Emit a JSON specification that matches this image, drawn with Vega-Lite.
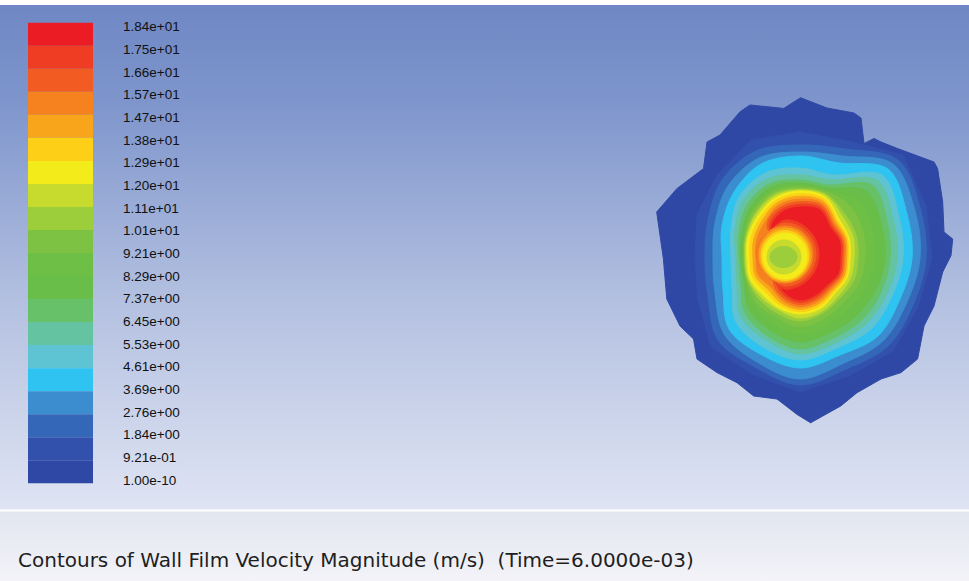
{
"$schema":"https://vega.github.io/schema/vega-lite/v6.json",
"width":969,"height":581,
"autosize":{"type":"fit","contains":"padding"},
"padding":0,
"background":"#ffffff",
"config":{"view":{"stroke":null}},
"resolve":{"scale":{"y":"independent"}},
"datasets":{
"outer":[
{"c":"k01","b":20,"o":0,"x":800.5,"y":97.7},{"c":"k01","b":20,"o":1,"x":827,"y":108},{"c":"k01","b":20,"o":2,"x":854,"y":113},{"c":"k01","b":20,"o":3,"x":861,"y":118},{"c":"k01","b":20,"o":4,"x":864,"y":143.5},{"c":"k01","b":20,"o":5,"x":874,"y":138.5},{"c":"k01","b":20,"o":6,"x":881,"y":142},{"c":"k01","b":20,"o":7,"x":897.5,"y":148.5},{"c":"k01","b":20,"o":8,"x":934,"y":162},{"c":"k01","b":20,"o":9,"x":937.6,"y":168.6},{"c":"k01","b":20,"o":10,"x":942.7,"y":202},{"c":"k01","b":20,"o":11,"x":944,"y":232},{"c":"k01","b":20,"o":12,"x":952.7,"y":239},{"c":"k01","b":20,"o":13,"x":951,"y":255.6},{"c":"k01","b":20,"o":14,"x":942.7,"y":272},{"c":"k01","b":20,"o":15,"x":934,"y":306},{"c":"k01","b":20,"o":16,"x":924,"y":326},{"c":"k01","b":20,"o":17,"x":917.6,"y":359},{"c":"k01","b":20,"o":18,"x":901,"y":372.6},{"c":"k01","b":20,"o":19,"x":881,"y":379},{"c":"k01","b":20,"o":20,"x":857,"y":392.7},{"c":"k01","b":20,"o":21,"x":840.7,"y":406},{"c":"k01","b":20,"o":22,"x":810.6,"y":422.8},{"c":"k01","b":20,"o":23,"x":797,"y":414.4},{"c":"k01","b":20,"o":24,"x":777,"y":399},{"c":"k01","b":20,"o":25,"x":753.7,"y":396},{"c":"k01","b":20,"o":26,"x":737,"y":382.7},{"c":"k01","b":20,"o":27,"x":717,"y":372.6},{"c":"k01","b":20,"o":28,"x":697,"y":359},{"c":"k01","b":20,"o":29,"x":693.5,"y":339},{"c":"k01","b":20,"o":30,"x":680,"y":326},{"c":"k01","b":20,"o":31,"x":666.8,"y":299},{"c":"k01","b":20,"o":32,"x":663.4,"y":259},{"c":"k01","b":20,"o":33,"x":656.7,"y":212},{"c":"k01","b":20,"o":34,"x":676.8,"y":188.7},{"c":"k01","b":20,"o":35,"x":703.5,"y":168.6},{"c":"k01","b":20,"o":36,"x":707,"y":142},{"c":"k01","b":20,"o":37,"x":720,"y":135},{"c":"k01","b":20,"o":38,"x":740,"y":111.8},{"c":"k01","b":20,"o":39,"x":750,"y":105},{"c":"k01","b":20,"o":40,"x":783.8,"y":108.4},
{"c":"k02","b":19,"o":0,"x":932,"y":258},{"c":"k02","b":19,"o":1,"x":918,"y":307},{"c":"k02","b":19,"o":2,"x":893,"y":351},{"c":"k02","b":19,"o":3,"x":849,"y":376},{"c":"k02","b":19,"o":4,"x":800,"y":392},{"c":"k02","b":19,"o":5,"x":752,"y":374},{"c":"k02","b":19,"o":6,"x":711,"y":347},{"c":"k02","b":19,"o":7,"x":698,"y":300},{"c":"k02","b":19,"o":8,"x":695,"y":258},{"c":"k02","b":19,"o":9,"x":697,"y":215},{"c":"k02","b":19,"o":10,"x":717,"y":175},{"c":"k02","b":19,"o":11,"x":751,"y":140},{"c":"k02","b":19,"o":12,"x":800,"y":132},{"c":"k02","b":19,"o":13,"x":848,"y":141},{"c":"k02","b":19,"o":14,"x":903,"y":155},{"c":"k02","b":19,"o":15,"x":926,"y":206}
],
"inner":[
{"c":"k03","b":18,"o":0,"x":926,"y":258},{"c":"k03","b":18,"o":1,"x":913,"y":305},{"c":"k03","b":18,"o":2,"x":888,"y":346},{"c":"k03","b":18,"o":3,"x":846,"y":369},{"c":"k03","b":18,"o":4,"x":800,"y":385},{"c":"k03","b":18,"o":5,"x":755,"y":367},{"c":"k03","b":18,"o":6,"x":718,"y":340},{"c":"k03","b":18,"o":7,"x":708,"y":296},{"c":"k03","b":18,"o":8,"x":705,"y":258},{"c":"k03","b":18,"o":9,"x":708,"y":220},{"c":"k03","b":18,"o":10,"x":722,"y":180},{"c":"k03","b":18,"o":11,"x":756,"y":151},{"c":"k03","b":18,"o":12,"x":800,"y":145},{"c":"k03","b":18,"o":13,"x":845,"y":149},{"c":"k03","b":18,"o":14,"x":898,"y":160},{"c":"k03","b":18,"o":15,"x":920,"y":208},
{"c":"k04","b":17,"o":0,"x":920,"y":258},{"c":"k04","b":17,"o":1,"x":907,"y":302},{"c":"k04","b":17,"o":2,"x":883,"y":341},{"c":"k04","b":17,"o":3,"x":844,"y":363},{"c":"k04","b":17,"o":4,"x":800,"y":379},{"c":"k04","b":17,"o":5,"x":757,"y":362},{"c":"k04","b":17,"o":6,"x":724,"y":334},{"c":"k04","b":17,"o":7,"x":715,"y":293},{"c":"k04","b":17,"o":8,"x":713,"y":258},{"c":"k04","b":17,"o":9,"x":715,"y":223},{"c":"k04","b":17,"o":10,"x":728,"y":186},{"c":"k04","b":17,"o":11,"x":759,"y":158},{"c":"k04","b":17,"o":12,"x":800,"y":152},{"c":"k04","b":17,"o":13,"x":842,"y":156},{"c":"k04","b":17,"o":14,"x":893,"y":164},{"c":"k04","b":17,"o":15,"x":915,"y":211},
{"c":"k05","b":16,"o":0,"x":912,"y":258},{"c":"k05","b":16,"o":1,"x":900,"y":299},{"c":"k05","b":16,"o":2,"x":878,"y":336},{"c":"k05","b":16,"o":3,"x":840,"y":355},{"c":"k05","b":16,"o":4,"x":800,"y":368},{"c":"k05","b":16,"o":5,"x":760,"y":354},{"c":"k05","b":16,"o":6,"x":729,"y":329},{"c":"k05","b":16,"o":7,"x":723,"y":290},{"c":"k05","b":16,"o":8,"x":722,"y":258},{"c":"k05","b":16,"o":9,"x":722,"y":226},{"c":"k05","b":16,"o":10,"x":734,"y":192},{"c":"k05","b":16,"o":11,"x":761,"y":164},{"c":"k05","b":16,"o":12,"x":800,"y":156},{"c":"k05","b":16,"o":13,"x":839,"y":163},{"c":"k05","b":16,"o":14,"x":888,"y":169},{"c":"k05","b":16,"o":15,"x":907,"y":214},
{"c":"k06","b":15,"o":0,"x":903,"y":258},{"c":"k06","b":15,"o":1,"x":892,"y":296},{"c":"k06","b":15,"o":2,"x":871,"y":329},{"c":"k06","b":15,"o":3,"x":837,"y":348},{"c":"k06","b":15,"o":4,"x":800,"y":360},{"c":"k06","b":15,"o":5,"x":763,"y":347},{"c":"k06","b":15,"o":6,"x":736,"y":322},{"c":"k06","b":15,"o":7,"x":732,"y":286},{"c":"k06","b":15,"o":8,"x":731,"y":258},{"c":"k06","b":15,"o":9,"x":731,"y":229},{"c":"k06","b":15,"o":10,"x":739,"y":197},{"c":"k06","b":15,"o":11,"x":765,"y":173},{"c":"k06","b":15,"o":12,"x":800,"y":168},{"c":"k06","b":15,"o":13,"x":834,"y":175},{"c":"k06","b":15,"o":14,"x":882,"y":175},{"c":"k06","b":15,"o":15,"x":899,"y":217},
{"c":"k07","b":14,"o":0,"x":897,"y":258},{"c":"k07","b":14,"o":1,"x":887,"y":294},{"c":"k07","b":14,"o":2,"x":866,"y":324},{"c":"k07","b":14,"o":3,"x":835,"y":343},{"c":"k07","b":14,"o":4,"x":800,"y":354},{"c":"k07","b":14,"o":5,"x":766,"y":340},{"c":"k07","b":14,"o":6,"x":741,"y":317},{"c":"k07","b":14,"o":7,"x":737,"y":284},{"c":"k07","b":14,"o":8,"x":736,"y":258},{"c":"k07","b":14,"o":9,"x":735,"y":231},{"c":"k07","b":14,"o":10,"x":743,"y":201},{"c":"k07","b":14,"o":11,"x":767,"y":179},{"c":"k07","b":14,"o":12,"x":800,"y":175},{"c":"k07","b":14,"o":13,"x":832,"y":180},{"c":"k07","b":14,"o":14,"x":877,"y":180},{"c":"k07","b":14,"o":15,"x":893,"y":219},
{"c":"k08","b":13,"o":0,"x":890,"y":258},{"c":"k08","b":13,"o":1,"x":881,"y":292},{"c":"k08","b":13,"o":2,"x":862,"y":320},{"c":"k08","b":13,"o":3,"x":833,"y":338},{"c":"k08","b":13,"o":4,"x":800,"y":349},{"c":"k08","b":13,"o":5,"x":768,"y":336},{"c":"k08","b":13,"o":6,"x":745,"y":313},{"c":"k08","b":13,"o":7,"x":741,"y":283},{"c":"k08","b":13,"o":8,"x":739,"y":258},{"c":"k08","b":13,"o":9,"x":739,"y":233},{"c":"k08","b":13,"o":10,"x":747,"y":205},{"c":"k08","b":13,"o":11,"x":769,"y":184},{"c":"k08","b":13,"o":12,"x":800,"y":180},{"c":"k08","b":13,"o":13,"x":830,"y":185},{"c":"k08","b":13,"o":14,"x":872,"y":185},{"c":"k08","b":13,"o":15,"x":887,"y":222},
{"c":"k09","b":12,"o":0,"x":885,"y":258},{"c":"k09","b":12,"o":1,"x":876,"y":289},{"c":"k09","b":12,"o":2,"x":857,"y":315},{"c":"k09","b":12,"o":3,"x":831,"y":332},{"c":"k09","b":12,"o":4,"x":800,"y":342},{"c":"k09","b":12,"o":5,"x":770,"y":330},{"c":"k09","b":12,"o":6,"x":749,"y":309},{"c":"k09","b":12,"o":7,"x":744,"y":281},{"c":"k09","b":12,"o":8,"x":741,"y":258},{"c":"k09","b":12,"o":9,"x":742,"y":234},{"c":"k09","b":12,"o":10,"x":750,"y":208},{"c":"k09","b":12,"o":11,"x":771,"y":187},{"c":"k09","b":12,"o":12,"x":800,"y":183},{"c":"k09","b":12,"o":13,"x":829,"y":188},{"c":"k09","b":12,"o":14,"x":866,"y":191},{"c":"k09","b":12,"o":15,"x":881,"y":224},
{"c":"k10","b":11,"o":0,"x":875,"y":258},{"c":"k10","b":11,"o":1,"x":867,"y":286},{"c":"k10","b":11,"o":2,"x":850,"y":308},{"c":"k10","b":11,"o":3,"x":828,"y":325},{"c":"k10","b":11,"o":4,"x":800,"y":335},{"c":"k10","b":11,"o":5,"x":773,"y":323},{"c":"k10","b":11,"o":6,"x":753,"y":305},{"c":"k10","b":11,"o":7,"x":746,"y":281},{"c":"k10","b":11,"o":8,"x":742.5,"y":258},{"c":"k10","b":11,"o":9,"x":744,"y":235},{"c":"k10","b":11,"o":10,"x":752,"y":210},{"c":"k10","b":11,"o":11,"x":772,"y":190},{"c":"k10","b":11,"o":12,"x":800,"y":185},{"c":"k10","b":11,"o":13,"x":828,"y":191},{"c":"k10","b":11,"o":14,"x":858,"y":200},{"c":"k10","b":11,"o":15,"x":872,"y":228},
{"c":"k11","b":10,"o":0,"x":865,"y":258},{"c":"k11","b":10,"o":1,"x":859,"y":283},{"c":"k11","b":10,"o":2,"x":844,"y":302},{"c":"k11","b":10,"o":3,"x":825,"y":318},{"c":"k11","b":10,"o":4,"x":800,"y":327},{"c":"k11","b":10,"o":5,"x":776,"y":317},{"c":"k11","b":10,"o":6,"x":756,"y":302},{"c":"k11","b":10,"o":7,"x":746.5,"y":280},{"c":"k11","b":10,"o":8,"x":743.5,"y":258},{"c":"k11","b":10,"o":9,"x":745,"y":235},{"c":"k11","b":10,"o":10,"x":753,"y":211},{"c":"k11","b":10,"o":11,"x":773,"y":192},{"c":"k11","b":10,"o":12,"x":800,"y":187},{"c":"k11","b":10,"o":13,"x":827,"y":192},{"c":"k11","b":10,"o":14,"x":851,"y":207},{"c":"k11","b":10,"o":15,"x":863,"y":232},
{"c":"k12","b":9,"o":0,"x":858,"y":258},{"c":"k12","b":9,"o":1,"x":854,"y":280},{"c":"k12","b":9,"o":2,"x":840,"y":298},{"c":"k12","b":9,"o":3,"x":823,"y":313},{"c":"k12","b":9,"o":4,"x":800,"y":321},{"c":"k12","b":9,"o":5,"x":777,"y":313},{"c":"k12","b":9,"o":6,"x":759,"y":299},{"c":"k12","b":9,"o":7,"x":747.5,"y":279.5},{"c":"k12","b":9,"o":8,"x":744.5,"y":258},{"c":"k12","b":9,"o":9,"x":746,"y":235.5},{"c":"k12","b":9,"o":10,"x":755,"y":213},{"c":"k12","b":9,"o":11,"x":774,"y":194},{"c":"k12","b":9,"o":12,"x":800,"y":189},{"c":"k12","b":9,"o":13,"x":826,"y":194},{"c":"k12","b":9,"o":14,"x":845,"y":214},{"c":"k12","b":9,"o":15,"x":856,"y":235},
{"c":"k13","b":8,"o":0,"x":854,"y":258},{"c":"k13","b":8,"o":1,"x":850,"y":279},{"c":"k13","b":8,"o":2,"x":838,"y":296},{"c":"k13","b":8,"o":3,"x":822,"y":311},{"c":"k13","b":8,"o":4,"x":800,"y":318},{"c":"k13","b":8,"o":5,"x":779,"y":310},{"c":"k13","b":8,"o":6,"x":761,"y":297},{"c":"k13","b":8,"o":7,"x":748.5,"y":279},{"c":"k13","b":8,"o":8,"x":745.5,"y":258},{"c":"k13","b":8,"o":9,"x":747,"y":236},{"c":"k13","b":8,"o":10,"x":756,"y":214.5},{"c":"k13","b":8,"o":11,"x":774.5,"y":196},{"c":"k13","b":8,"o":12,"x":800,"y":190},{"c":"k13","b":8,"o":13,"x":826,"y":195.5},{"c":"k13","b":8,"o":14,"x":842,"y":216},{"c":"k13","b":8,"o":15,"x":853,"y":236.5},
{"c":"k14","b":7,"o":0,"x":850,"y":258},{"c":"k14","b":7,"o":1,"x":847,"y":278},{"c":"k14","b":7,"o":2,"x":835,"y":293},{"c":"k14","b":7,"o":3,"x":821,"y":308},{"c":"k14","b":7,"o":4,"x":800,"y":314},{"c":"k14","b":7,"o":5,"x":779,"y":308},{"c":"k14","b":7,"o":6,"x":763,"y":295},{"c":"k14","b":7,"o":7,"x":750,"y":279},{"c":"k14","b":7,"o":8,"x":747,"y":258},{"c":"k14","b":7,"o":9,"x":748,"y":237},{"c":"k14","b":7,"o":10,"x":758,"y":216},{"c":"k14","b":7,"o":11,"x":775,"y":198},{"c":"k14","b":7,"o":12,"x":800,"y":191},{"c":"k14","b":7,"o":13,"x":825,"y":197},{"c":"k14","b":7,"o":14,"x":839,"y":219},{"c":"k14","b":7,"o":15,"x":849,"y":238},
{"c":"k15","b":6,"o":0,"x":848.3,"y":258},{"c":"k15","b":6,"o":1,"x":845.6,"y":276.9},{"c":"k15","b":6,"o":2,"x":833.9,"y":291.9},{"c":"k15","b":6,"o":3,"x":819.8,"y":305.8},{"c":"k15","b":6,"o":4,"x":800,"y":311.7},{"c":"k15","b":6,"o":5,"x":780.4,"y":305.4},{"c":"k15","b":6,"o":6,"x":765.9,"y":292.1},{"c":"k15","b":6,"o":7,"x":752.9,"y":277.5},{"c":"k15","b":6,"o":8,"x":750,"y":258},{"c":"k15","b":6,"o":9,"x":751,"y":237.7},{"c":"k15","b":6,"o":10,"x":759.9,"y":217.9},{"c":"k15","b":6,"o":11,"x":776.1,"y":200.4},{"c":"k15","b":6,"o":12,"x":800,"y":193.7},{"c":"k15","b":6,"o":13,"x":824.4,"y":199.1},{"c":"k15","b":6,"o":14,"x":837.5,"y":220.5},{"c":"k15","b":6,"o":15,"x":847.4,"y":238.4},
{"c":"k16","b":5,"o":0,"x":846.7,"y":258},{"c":"k16","b":5,"o":1,"x":844.1,"y":276.3},{"c":"k16","b":5,"o":2,"x":832.5,"y":290.5},{"c":"k16","b":5,"o":3,"x":818.9,"y":303.6},{"c":"k16","b":5,"o":4,"x":800,"y":309.3},{"c":"k16","b":5,"o":5,"x":781.3,"y":303},{"c":"k16","b":5,"o":6,"x":768.4,"y":289.6},{"c":"k16","b":5,"o":7,"x":755.6,"y":276.4},{"c":"k16","b":5,"o":8,"x":753,"y":258},{"c":"k16","b":5,"o":9,"x":753.8,"y":238.9},{"c":"k16","b":5,"o":10,"x":762.3,"y":220.3},{"c":"k16","b":5,"o":11,"x":777.1,"y":202.8},{"c":"k16","b":5,"o":12,"x":800,"y":196.3},{"c":"k16","b":5,"o":13,"x":823.5,"y":201.4},{"c":"k16","b":5,"o":14,"x":836.1,"y":221.9},{"c":"k16","b":5,"o":15,"x":845.9,"y":239},
{"c":"k17","b":4,"o":0,"x":845,"y":258},{"c":"k17","b":4,"o":1,"x":842.5,"y":275.6},{"c":"k17","b":4,"o":2,"x":831.1,"y":289.1},{"c":"k17","b":4,"o":3,"x":818,"y":301.4},{"c":"k17","b":4,"o":4,"x":800,"y":307},{"c":"k17","b":4,"o":5,"x":782.4,"y":300.5},{"c":"k17","b":4,"o":6,"x":771,"y":287},{"c":"k17","b":4,"o":7,"x":758.4,"y":275.2},{"c":"k17","b":4,"o":8,"x":756,"y":258},{"c":"k17","b":4,"o":9,"x":756.6,"y":240},{"c":"k17","b":4,"o":10,"x":764.7,"y":222.7},{"c":"k17","b":4,"o":11,"x":778.2,"y":205.3},{"c":"k17","b":4,"o":12,"x":800,"y":199},{"c":"k17","b":4,"o":13,"x":822.6,"y":203.5},{"c":"k17","b":4,"o":14,"x":834.6,"y":223.4},{"c":"k17","b":4,"o":15,"x":844.4,"y":239.6},
{"c":"k18","b":3,"o":0,"x":843.3,"y":258},{"c":"k18","b":3,"o":1,"x":840.9,"y":275},{"c":"k18","b":3,"o":2,"x":829.7,"y":287.7},{"c":"k18","b":3,"o":3,"x":817.1,"y":299.3},{"c":"k18","b":3,"o":4,"x":800,"y":304.7},{"c":"k18","b":3,"o":5,"x":783.4,"y":298},{"c":"k18","b":3,"o":6,"x":773.6,"y":284.4},{"c":"k18","b":3,"o":7,"x":776.9,"y":267.6},{"c":"k18","b":3,"o":8,"x":775,"y":258},{"c":"k18","b":3,"o":9,"x":776.9,"y":248.4},{"c":"k18","b":3,"o":10,"x":767,"y":225},{"c":"k18","b":3,"o":11,"x":779.2,"y":207.8},{"c":"k18","b":3,"o":12,"x":800,"y":201.7},{"c":"k18","b":3,"o":13,"x":821.7,"y":205.6},{"c":"k18","b":3,"o":14,"x":833.2,"y":224.8},{"c":"k18","b":3,"o":15,"x":842.8,"y":240.3},
{"c":"k19","b":2,"o":0,"x":841.7,"y":258},{"c":"k19","b":2,"o":1,"x":839.5,"y":274.4},{"c":"k19","b":2,"o":2,"x":828.3,"y":286.3},{"c":"k19","b":2,"o":3,"x":816.2,"y":297.1},{"c":"k19","b":2,"o":4,"x":800,"y":302.3},{"c":"k19","b":2,"o":5,"x":784.4,"y":295.6},{"c":"k19","b":2,"o":6,"x":776.2,"y":281.8},{"c":"k19","b":2,"o":7,"x":781.5,"y":265.7},{"c":"k19","b":2,"o":8,"x":780,"y":258},{"c":"k19","b":2,"o":9,"x":781.5,"y":250.3},{"c":"k19","b":2,"o":10,"x":769.4,"y":227.4},{"c":"k19","b":2,"o":11,"x":780.2,"y":210.2},{"c":"k19","b":2,"o":12,"x":800,"y":204.3},{"c":"k19","b":2,"o":13,"x":820.8,"y":207.8},{"c":"k19","b":2,"o":14,"x":831.8,"y":226.2},{"c":"k19","b":2,"o":15,"x":841.3,"y":240.9},
{"c":"k20","b":1,"o":0,"x":840,"y":258},{"c":"k20","b":1,"o":1,"x":837.9,"y":273.7},{"c":"k20","b":1,"o":2,"x":826.9,"y":284.9},{"c":"k20","b":1,"o":3,"x":815.3,"y":295},{"c":"k20","b":1,"o":4,"x":800,"y":300},{"c":"k20","b":1,"o":5,"x":785.4,"y":293.1},{"c":"k20","b":1,"o":6,"x":778.8,"y":279.2},{"c":"k20","b":1,"o":7,"x":786.1,"y":263.7},{"c":"k20","b":1,"o":8,"x":785,"y":258},{"c":"k20","b":1,"o":9,"x":786.1,"y":252.3},{"c":"k20","b":1,"o":10,"x":771.7,"y":229.7},{"c":"k20","b":1,"o":11,"x":781.2,"y":212.7},{"c":"k20","b":1,"o":12,"x":800,"y":207},{"c":"k20","b":1,"o":13,"x":819.9,"y":210},{"c":"k20","b":1,"o":14,"x":830.4,"y":227.6},{"c":"k20","b":1,"o":15,"x":839.7,"y":241.5},
{"c":"k21","b":2,"o":0,"x":819,"y":254.5},{"c":"k21","b":2,"o":1,"x":814.4,"y":271.8},{"c":"k21","b":2,"o":2,"x":802,"y":284.4},{"c":"k21","b":2,"o":3,"x":785,"y":289},{"c":"k21","b":2,"o":4,"x":771,"y":279.2},{"c":"k21","b":2,"o":5,"x":760.8,"y":268.75},{"c":"k21","b":2,"o":6,"x":757,"y":254.5},{"c":"k21","b":2,"o":7,"x":760.8,"y":240.25},{"c":"k21","b":2,"o":8,"x":771,"y":229.8},{"c":"k21","b":2,"o":9,"x":785,"y":220},{"c":"k21","b":2,"o":10,"x":802,"y":224.6},{"c":"k21","b":2,"o":11,"x":814.4,"y":237.2},
{"c":"k22","b":3,"o":0,"x":816,"y":254.5},{"c":"k22","b":3,"o":1,"x":811.8,"y":270.3},{"c":"k22","b":3,"o":2,"x":800.5,"y":281.8},{"c":"k22","b":3,"o":3,"x":785,"y":286},{"c":"k22","b":3,"o":4,"x":771,"y":279.2},{"c":"k22","b":3,"o":5,"x":760.8,"y":268.75},{"c":"k22","b":3,"o":6,"x":757,"y":254.5},{"c":"k22","b":3,"o":7,"x":760.8,"y":240.25},{"c":"k22","b":3,"o":8,"x":771,"y":229.8},{"c":"k22","b":3,"o":9,"x":785,"y":223},{"c":"k22","b":3,"o":10,"x":800.5,"y":227.2},{"c":"k22","b":3,"o":11,"x":811.8,"y":238.7},
{"c":"k23","b":4,"o":0,"x":813,"y":254.5},{"c":"k23","b":4,"o":1,"x":809.2,"y":268.75},{"c":"k23","b":4,"o":2,"x":799,"y":279.2},{"c":"k23","b":4,"o":3,"x":785,"y":283},{"c":"k23","b":4,"o":4,"x":771,"y":279.2},{"c":"k23","b":4,"o":5,"x":760.8,"y":268.75},{"c":"k23","b":4,"o":6,"x":757,"y":254.5},{"c":"k23","b":4,"o":7,"x":760.8,"y":240.25},{"c":"k23","b":4,"o":8,"x":771,"y":229.8},{"c":"k23","b":4,"o":9,"x":785,"y":226},{"c":"k23","b":4,"o":10,"x":799,"y":229.8},{"c":"k23","b":4,"o":11,"x":809.2,"y":240.25},
{"c":"k24","b":5,"o":0,"x":811,"y":255},{"c":"k24","b":5,"o":1,"x":807.5,"y":268.5},{"c":"k24","b":5,"o":2,"x":798,"y":278.4},{"c":"k24","b":5,"o":3,"x":785,"y":282},{"c":"k24","b":5,"o":4,"x":772,"y":278.4},{"c":"k24","b":5,"o":5,"x":762.5,"y":268.5},{"c":"k24","b":5,"o":6,"x":759,"y":255},{"c":"k24","b":5,"o":7,"x":762.5,"y":241.5},{"c":"k24","b":5,"o":8,"x":772,"y":231.6},{"c":"k24","b":5,"o":9,"x":785,"y":228},{"c":"k24","b":5,"o":10,"x":798,"y":231.6},{"c":"k24","b":5,"o":11,"x":807.5,"y":241.5},
{"c":"k25","b":6,"o":0,"x":809,"y":255.5},{"c":"k25","b":6,"o":1,"x":805.8,"y":268},{"c":"k25","b":6,"o":2,"x":797,"y":277.2},{"c":"k25","b":6,"o":3,"x":785,"y":280.5},{"c":"k25","b":6,"o":4,"x":773,"y":277.2},{"c":"k25","b":6,"o":5,"x":764.2,"y":268},{"c":"k25","b":6,"o":6,"x":761,"y":255.5},{"c":"k25","b":6,"o":7,"x":764.2,"y":243},{"c":"k25","b":6,"o":8,"x":773,"y":233.9},{"c":"k25","b":6,"o":9,"x":785,"y":230.5},{"c":"k25","b":6,"o":10,"x":797,"y":233.9},{"c":"k25","b":6,"o":11,"x":805.8,"y":243},
{"c":"k26","b":7,"o":0,"x":807,"y":256},{"c":"k26","b":7,"o":1,"x":804.1,"y":267.5},{"c":"k26","b":7,"o":2,"x":796,"y":275.9},{"c":"k26","b":7,"o":3,"x":785,"y":279},{"c":"k26","b":7,"o":4,"x":774,"y":275.9},{"c":"k26","b":7,"o":5,"x":765.9,"y":267.5},{"c":"k26","b":7,"o":6,"x":763,"y":256},{"c":"k26","b":7,"o":7,"x":765.9,"y":244.5},{"c":"k26","b":7,"o":8,"x":774,"y":236.1},{"c":"k26","b":7,"o":9,"x":785,"y":233},{"c":"k26","b":7,"o":10,"x":796,"y":236.1},{"c":"k26","b":7,"o":11,"x":804.1,"y":244.5},
{"c":"k27","b":8,"o":0,"x":801,"y":257},{"c":"k27","b":8,"o":1,"x":798.7,"y":265.5},{"c":"k27","b":8,"o":2,"x":792.5,"y":271.7},{"c":"k27","b":8,"o":3,"x":784,"y":274},{"c":"k27","b":8,"o":4,"x":775.5,"y":271.7},{"c":"k27","b":8,"o":5,"x":769.3,"y":265.5},{"c":"k27","b":8,"o":6,"x":767,"y":257},{"c":"k27","b":8,"o":7,"x":769.3,"y":248.5},{"c":"k27","b":8,"o":8,"x":775.5,"y":242.3},{"c":"k27","b":8,"o":9,"x":784,"y":240},{"c":"k27","b":8,"o":10,"x":792.5,"y":242.3},{"c":"k27","b":8,"o":11,"x":798.7,"y":248.5},
{"c":"k28","b":9,"o":0,"x":797,"y":257},{"c":"k28","b":9,"o":1,"x":795.2,"y":262.25},{"c":"k28","b":9,"o":2,"x":790.25,"y":266.1},{"c":"k28","b":9,"o":3,"x":783.5,"y":267.5},{"c":"k28","b":9,"o":4,"x":776.75,"y":266.1},{"c":"k28","b":9,"o":5,"x":771.8,"y":262.25},{"c":"k28","b":9,"o":6,"x":770,"y":257},{"c":"k28","b":9,"o":7,"x":771.8,"y":251.75},{"c":"k28","b":9,"o":8,"x":776.75,"y":247.9},{"c":"k28","b":9,"o":9,"x":783.5,"y":246.5},{"c":"k28","b":9,"o":10,"x":790.25,"y":247.9},{"c":"k28","b":9,"o":11,"x":795.2,"y":251.75}
],
"bands":[
{"b":1,"lo":17.499,"hi":18.42},{"b":2,"lo":16.578,"hi":17.499},{"b":3,"lo":15.657,"hi":16.578},{"b":4,"lo":14.736,"hi":15.657},{"b":5,"lo":13.815,"hi":14.736},{"b":6,"lo":12.894,"hi":13.815},{"b":7,"lo":11.973,"hi":12.894},{"b":8,"lo":11.052,"hi":11.973},{"b":9,"lo":10.131,"hi":11.052},{"b":10,"lo":9.21,"hi":10.131},{"b":11,"lo":8.289,"hi":9.21},{"b":12,"lo":7.368,"hi":8.289},{"b":13,"lo":6.447,"hi":7.368},{"b":14,"lo":5.526,"hi":6.447},{"b":15,"lo":4.605,"hi":5.526},{"b":16,"lo":3.684,"hi":4.605},{"b":17,"lo":2.763,"hi":3.684},{"b":18,"lo":1.842,"hi":2.763},{"b":19,"lo":0.921,"hi":1.842},{"b":20,"lo":0,"hi":0.921}
],
"labels":[
{"p":18.42,"t":"1.84e+01"},{"p":17.499,"t":"1.75e+01"},{"p":16.578,"t":"1.66e+01"},{"p":15.657,"t":"1.57e+01"},{"p":14.736,"t":"1.47e+01"},{"p":13.815,"t":"1.38e+01"},{"p":12.894,"t":"1.29e+01"},{"p":11.973,"t":"1.20e+01"},{"p":11.052,"t":"1.11e+01"},{"p":10.131,"t":"1.01e+01"},{"p":9.21,"t":"9.21e+00"},{"p":8.289,"t":"8.29e+00"},{"p":7.368,"t":"7.37e+00"},{"p":6.447,"t":"6.45e+00"},{"p":5.526,"t":"5.53e+00"},{"p":4.605,"t":"4.61e+00"},{"p":3.684,"t":"3.69e+00"},{"p":2.763,"t":"2.76e+00"},{"p":1.842,"t":"1.84e+00"},{"p":0.921,"t":"9.21e-01"},{"p":0,"t":"1.00e-10"}
]
},
"layer":[
{"data":{"values":[{}]},
 "mark":{"type":"rect","fill":{"gradient":"linear","x1":0,"y1":0,"x2":0,"y2":1,"stops":[{"offset":0,"color":"#6f87c4"},{"offset":0.19,"color":"#7e95cc"},{"offset":0.585,"color":"#b3c0e0"},{"offset":1,"color":"#dfe4f3"}]}},
 "encoding":{"x":{"datum":0,"type":"quantitative","scale":{"domain":[0,969],"nice":false,"zero":false},"axis":null},"x2":{"datum":969},
  "y":{"datum":5,"type":"quantitative","scale":{"domain":[0,581],"reverse":true,"nice":false,"zero":false},"axis":null},"y2":{"datum":509.5}}},
{"data":{"values":[{}]},
 "mark":{"type":"rect","fill":{"gradient":"linear","x1":0,"y1":0,"x2":0,"y2":1,"stops":[{"offset":0,"color":"#e2e6f0"},{"offset":1,"color":"#f3f3f8"}]}},
 "encoding":{"x":{"datum":0,"type":"quantitative","scale":{"domain":[0,969],"nice":false,"zero":false},"axis":null},"x2":{"datum":969},
  "y":{"datum":511.5,"type":"quantitative","scale":{"domain":[0,581],"reverse":true,"nice":false,"zero":false},"axis":null},"y2":{"datum":581}}},
{"data":{"name":"outer"},
 "mark":{"type":"line","interpolate":"linear-closed","strokeWidth":1},
 "encoding":{
  "x":{"field":"x","type":"quantitative","scale":{"domain":[0,969],"nice":false,"zero":false},"axis":null},
  "y":{"field":"y","type":"quantitative","scale":{"domain":[0,581],"reverse":true,"nice":false,"zero":false},"axis":null},
  "detail":{"field":"c"},
  "order":{"field":"o","type":"quantitative"},
  "fill":{"field":"b","type":"ordinal","legend":null,"scale":{"domain":[1,2,3,4,5,6,7,8,9,10,11,12,13,14,15,16,17,18,19,20],"range":["#ec1c24","#ef3d23","#f25c22","#f6821f","#f9a51b","#fdcf16","#f4eb1b","#c6db2d","#9ccd3a","#7dc242","#6dbf45","#68be48","#66c168","#64c3a0","#5ec3d3","#2ec3f0","#3b8dd0","#3567b9","#3251ad","#2f48a5"]}},
  "stroke":{"field":"b","type":"ordinal","legend":null,"scale":{"domain":[1,2,3,4,5,6,7,8,9,10,11,12,13,14,15,16,17,18,19,20],"range":["#ec1c24","#ef3d23","#f25c22","#f6821f","#f9a51b","#fdcf16","#f4eb1b","#c6db2d","#9ccd3a","#7dc242","#6dbf45","#68be48","#66c168","#64c3a0","#5ec3d3","#2ec3f0","#3b8dd0","#3567b9","#3251ad","#2f48a5"]}}
 }},
{"data":{"name":"inner"},
 "mark":{"type":"line","interpolate":"cardinal-closed","strokeWidth":1},
 "encoding":{
  "x":{"field":"x","type":"quantitative","scale":{"domain":[0,969],"nice":false,"zero":false},"axis":null},
  "y":{"field":"y","type":"quantitative","scale":{"domain":[0,581],"reverse":true,"nice":false,"zero":false},"axis":null},
  "detail":{"field":"c"},
  "order":{"field":"o","type":"quantitative"},
  "fill":{"field":"b","type":"ordinal","legend":null,"scale":{"domain":[1,2,3,4,5,6,7,8,9,10,11,12,13,14,15,16,17,18,19,20],"range":["#ec1c24","#ef3d23","#f25c22","#f6821f","#f9a51b","#fdcf16","#f4eb1b","#c6db2d","#9ccd3a","#7dc242","#6dbf45","#68be48","#66c168","#64c3a0","#5ec3d3","#2ec3f0","#3b8dd0","#3567b9","#3251ad","#2f48a5"]}},
  "stroke":{"field":"b","type":"ordinal","legend":null,"scale":{"domain":[1,2,3,4,5,6,7,8,9,10,11,12,13,14,15,16,17,18,19,20],"range":["#ec1c24","#ef3d23","#f25c22","#f6821f","#f9a51b","#fdcf16","#f4eb1b","#c6db2d","#9ccd3a","#7dc242","#6dbf45","#68be48","#66c168","#64c3a0","#5ec3d3","#2ec3f0","#3b8dd0","#3567b9","#3251ad","#2f48a5"]}}
 }},
{"data":{"name":"bands"},
 "mark":{"type":"rect"},
 "encoding":{
  "x":{"datum":28,"type":"quantitative","scale":{"domain":[0,969],"nice":false,"zero":false},"axis":null},"x2":{"datum":93},
  "y":{"field":"lo","type":"quantitative","scale":{"domain":[0,18.42],"range":[483.3,22.7],"nice":false,"zero":false},"axis":null},
  "y2":{"field":"hi"},
  "fill":{"field":"b","type":"ordinal","legend":null,"scale":{"domain":[1,2,3,4,5,6,7,8,9,10,11,12,13,14,15,16,17,18,19,20],"range":["#ec1c24","#ef3d23","#f25c22","#f6821f","#f9a51b","#fdcf16","#f4eb1b","#c6db2d","#9ccd3a","#7dc242","#6dbf45","#68be48","#66c168","#64c3a0","#5ec3d3","#2ec3f0","#3b8dd0","#3567b9","#3251ad","#2f48a5"]}}
 }},
{"data":{"name":"labels"},
 "mark":{"type":"text","align":"left","baseline":"middle","font":"Liberation Sans","fontSize":13.5,"fill":"#111111"},
 "encoding":{
  "x":{"datum":123,"type":"quantitative","scale":{"domain":[0,969],"nice":false,"zero":false},"axis":null},
  "y":{"field":"p","type":"quantitative","scale":{"domain":[0,18.42],"range":[480.7,27.3],"nice":false,"zero":false},"axis":null},
  "text":{"field":"t"}
 }},
{"data":{"values":[{"t":"Contours of Wall Film Velocity Magnitude (m/s)\u00a0 (Time=6.0000e-03)"}]},
 "mark":{"type":"text","align":"left","baseline":"alphabetic","font":"DejaVu Sans","fontSize":20,"fill":"#1e1e1e"},
 "encoding":{
  "x":{"datum":18,"type":"quantitative","scale":{"domain":[0,969],"nice":false,"zero":false},"axis":null},
  "y":{"datum":567.3,"type":"quantitative","scale":{"domain":[0,581],"reverse":true,"nice":false,"zero":false},"axis":null},
  "text":{"field":"t"}
 }}
]
}
